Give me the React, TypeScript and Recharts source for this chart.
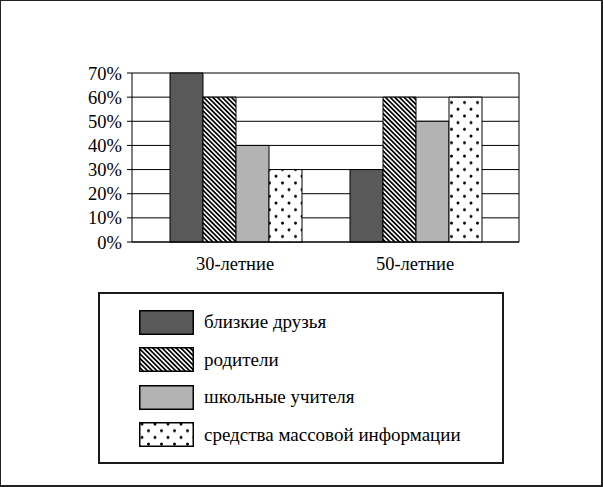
import React from 'react';
import { BarChart, Bar, XAxis, YAxis, CartesianGrid, Legend } from 'recharts';

const categories = ['30-летние', '50-летние'];
const friends = [70, 30];
const parents = [60, 60];
const teachers = [40, 50];
const media = [30, 60];
const yTicks = [0, 10, 20, 30, 40, 50, 60, 70];

const seriesNames = ['близкие друзья', 'родители', 'школьные учителя', 'средства массовой информации'];
const seriesKeys = ['friends', 'parents', 'teachers', 'media'];
const seriesFills = ['#595959', 'url(#hatch)', '#b3b3b3', 'url(#dots)'];

const data = categories.map((c, i) => ({
  name: c,
  friends: friends[i],
  parents: parents[i],
  teachers: teachers[i],
  media: media[i],
}));

const FONT = '"Liberation Serif"';

const css = `
.chart-root, .chart-root *, .chart-root text, .chart-root tspan {
  font-family: "Liberation Serif" !important;
}
`;

const LegendBox = () => (
  <div
    style={{
      boxSizing: 'border-box',
      width: 406,
      height: 172,
      border: '2px solid #1a1a1a',
      paddingLeft: 39,
      paddingTop: 16,
      fontFamily: FONT,
      fontSize: 19,
      color: '#000',
    }}
  >
    {seriesNames.map((n, i) => (
      <div key={n} style={{ display: 'flex', alignItems: 'center', height: 24, marginBottom: 13.5 }}>
        <svg width={55} height={25} style={{ display: 'block' }}>
          <rect x={0.75} y={0.75} width={53.5} height={23.5} fill={seriesFills[i]} stroke="#000" strokeWidth={1.5} />
        </svg>
        <span style={{ marginLeft: 10, lineHeight: '24px', fontFamily: FONT }}>{n}</span>
      </div>
    ))}
  </div>
);

export default function App() {
  return (
    <div className="chart-root" style={{ position: 'absolute', left: 0, top: 0, width: 603, height: 487, background: '#fff', fontFamily: FONT }}>
      <style>{css}</style>
      <BarChart
        width={603}
        height={487}
        data={data}
        margin={{ top: 73, right: 83, left: 72, bottom: 215 }}
        barCategoryGap={25}
        barGap={0}
        style={{ fontFamily: FONT }}
      >
        <defs>
          <pattern id="hatch" patternUnits="userSpaceOnUse" width={6} height={3.3} patternTransform="rotate(45)">
            <rect x={0} y={0} width={6} height={3.3} fill="#fff" />
            <rect x={0} y={0} width={6} height={1.7} fill="#000" />
          </pattern>
          <pattern id="dots" patternUnits="userSpaceOnUse" width={13} height={13.4}>
            <rect x={0} y={0} width={13} height={13.4} fill="#fff" />
            <circle cx={3} cy={2} r={1.5} fill="#000" />
            <circle cx={9.5} cy={8.7} r={1.5} fill="#000" />
          </pattern>
        </defs>
        <CartesianGrid yAxisId="left" horizontal vertical={false} stroke="#000" strokeWidth={1} />
        <XAxis
          dataKey="name"
          tickLine={false}
          axisLine={{ stroke: '#000', strokeWidth: 1 }}
          tick={{ fill: '#000', fontSize: 18.5, fontFamily: 'Liberation Serif' }}
          tickSize={0}
          tickMargin={15}
          height={30}
          padding={{ left: 13, right: 14 }}
        />
        <YAxis
          yAxisId="left"
          domain={[0, 70]}
          ticks={yTicks}
          interval={0}
          tickFormatter={(v: number) => `${v}%`}
          tick={{ fill: '#000', fontSize: 18.5, fontFamily: 'Liberation Serif' }}
          tickLine={{ stroke: '#000' }}
          tickSize={5}
          tickMargin={5}
          axisLine={{ stroke: '#000', strokeWidth: 1 }}
          width={60}
        />
        <YAxis
          yAxisId="right"
          orientation="right"
          domain={[0, 70]}
          ticks={yTicks}
          tick={false}
          tickLine={false}
          axisLine={{ stroke: '#000', strokeWidth: 1 }}
          width={1}
        />
        {seriesKeys.map((k, i) => (
          <Bar
            key={k}
            yAxisId="left"
            dataKey={k}
            name={seriesNames[i]}
            fill={seriesFills[i]}
            stroke="#000"
            strokeWidth={1}
            isAnimationActive={false}
          />
        ))}
        <Legend
          layout="vertical"
          align="center"
          verticalAlign="middle"
          content={() => <LegendBox />}
          wrapperStyle={{ left: 98, top: 292, width: 406, height: 172 }}
        />
      </BarChart>
      <div
        style={{
          position: 'absolute',
          left: 0,
          top: 0,
          width: 603,
          height: 487,
          boxSizing: 'border-box',
          borderTop: '1px solid #222',
          borderLeft: '1px solid #222',
          borderRight: '2px solid #222',
          borderBottom: '2px solid #222',
          pointerEvents: 'none',
        }}
      />
    </div>
  );
}
